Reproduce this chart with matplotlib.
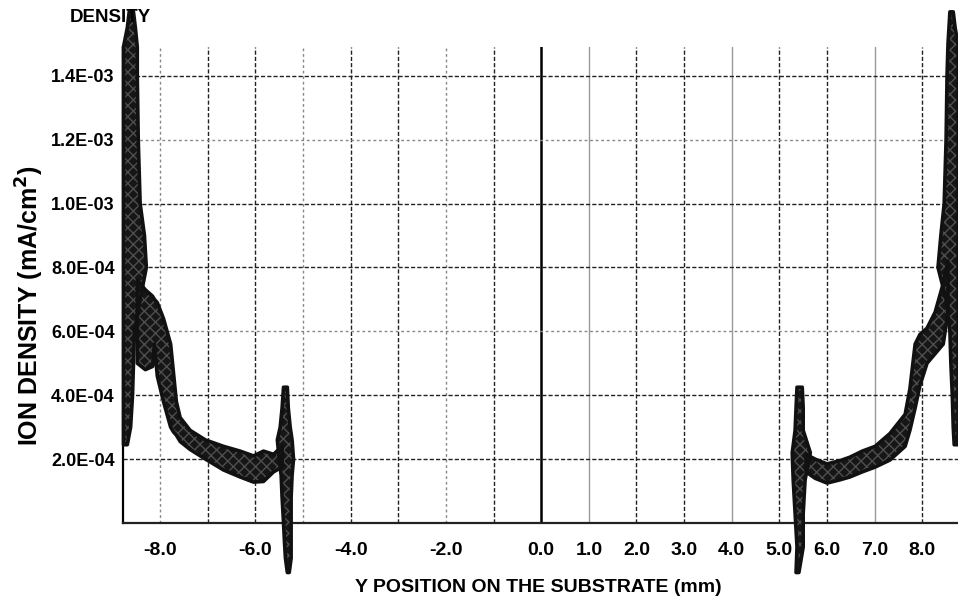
import matplotlib
matplotlib.use("Agg")
import matplotlib.pyplot as plt

# ---- data (x in mm, y in mA/cm^2) ----
# left edge column, drawn across y
lcol_y  = [2.45e-4, 3.0e-4, 4.0e-4, 5.0e-4, 6.0e-4, 7.0e-4, 8.0e-4, 9.0e-4, 1.0e-3, 1.2e-3, 1.4e-3, 1.49e-3, 1.55e-3, 1.6e-3]
lcol_x0 = [-8.77, -8.77, -8.77, -8.77, -8.77, -8.77, -8.77, -8.77, -8.77, -8.77, -8.77, -8.77, -8.69, -8.65]
lcol_x1 = [-8.69, -8.62, -8.58, -8.56, -8.54, -8.42, -8.29, -8.33, -8.42, -8.46, -8.48, -8.48, -8.52, -8.56]

# left lobe + descending band
lband_x  = [-8.48, -8.31, -8.16, -8.12, -8.06, -7.93, -7.78, -7.72, -7.66, -7.58, -7.37, -7.05, -6.67, -6.32, -6.04, -5.83, -5.62, -5.44]
lband_hi = [7.6e-4, 7.3e-4, 7.1e-4, 7.0e-4, 6.9e-4, 6.4e-4, 5.6e-4, 4.7e-4, 3.8e-4, 3.3e-4, 2.9e-4, 2.6e-4, 2.4e-4, 2.25e-4, 2.1e-4, 2.25e-4, 2.15e-4, 2.4e-4]
lband_lo = [5.0e-4, 4.8e-4, 4.9e-4, 5.6e-4, 4.6e-4, 3.8e-4, 3.0e-4, 2.85e-4, 2.75e-4, 2.55e-4, 2.3e-4, 2.0e-4, 1.66e-4, 1.44e-4, 1.28e-4, 1.3e-4, 1.6e-4, 1.75e-4]

# left spike near -5.4 mm
lspk_y  = [4.25e-4, 3.6e-4, 3.0e-4, 2.6e-4, 2.0e-4, 1.5e-4, 0.8e-4, 0.0, -0.6e-4, -1.1e-4, -1.55e-4]
lspk_x0 = [-5.41, -5.44, -5.48, -5.54, -5.50, -5.46, -5.44, -5.41, -5.39, -5.37, -5.33]
lspk_x1 = [-5.33, -5.31, -5.27, -5.23, -5.20, -5.23, -5.25, -5.25, -5.25, -5.25, -5.29]

# right spike near 5.4 mm
rspk_y  = [4.25e-4, 3.6e-4, 2.9e-4, 2.2e-4, 1.35e-4, 0.3e-4, -0.75e-4, -1.55e-4]
rspk_x0 = [5.37, 5.35, 5.33, 5.27, 5.29, 5.33, 5.37, 5.35]
rspk_x1 = [5.48, 5.50, 5.50, 5.65, 5.54, 5.50, 5.50, 5.41]

# right band rising to the edge
rband_x  = [5.56, 5.75, 6.00, 6.27, 6.48, 6.74, 7.01, 7.32, 7.64, 7.74, 7.85, 7.95, 8.10, 8.27, 8.44, 8.54]
rband_hi = [2.15e-4, 2.0e-4, 1.85e-4, 1.95e-4, 2.06e-4, 2.25e-4, 2.4e-4, 2.8e-4, 3.4e-4, 4.2e-4, 5.6e-4, 5.9e-4, 6.1e-4, 6.6e-4, 7.5e-4, 8.2e-4]
rband_lo = [1.6e-4, 1.4e-4, 1.25e-4, 1.35e-4, 1.44e-4, 1.6e-4, 1.75e-4, 1.97e-4, 2.4e-4, 2.9e-4, 3.6e-4, 4.3e-4, 5.0e-4, 5.3e-4, 5.6e-4, 6.6e-4]

# right edge column
rcol_y  = [2.45e-4, 3.0e-4, 4.0e-4, 5.0e-4, 6.0e-4, 7.0e-4, 8.0e-4, 9.0e-4, 1.0e-3, 1.2e-3, 1.4e-3, 1.5e-3, 1.55e-3, 1.6e-3]
rcol_x0 = [8.67, 8.65, 8.63, 8.60, 8.58, 8.50, 8.33, 8.39, 8.46, 8.50, 8.52, 8.54, 8.56, 8.58]
rcol_x1 = [8.75, 8.75, 8.75, 8.75, 8.75, 8.75, 8.75, 8.75, 8.75, 8.75, 8.75, 8.75, 8.69, 8.65]

xticks = [-8, -6, -4, -2, 0, 1, 2, 3, 4, 5, 6, 7, 8]
xtick_labels = ["-8.0", "-6.0", "-4.0", "-2.0", "0.0", "1.0", "2.0", "3.0", "4.0", "5.0", "6.0", "7.0", "8.0"]
yticks = [2e-4, 4e-4, 6e-4, 8e-4, 1.0e-3, 1.2e-3, 1.4e-3]
ytick_labels = ["2.0E-04", "4.0E-04", "6.0E-04", "8.0E-04", "1.0E-03", "1.2E-03", "1.4E-03"]
grid_x = list(range(-8, 9))

plt.rcParams["font.family"] = ["Liberation Sans", "DejaVu Sans"]
plt.rcParams["font.weight"] = "bold"
plt.rcParams["hatch.linewidth"] = 1.0

fig = plt.figure(figsize=(9.58, 6.07), dpi=100)
ax = fig.add_axes([123 / 958, 1 - 523 / 607, 1 - 123 / 958, (523 - 47) / 607])
ax.set_xlim(-8.78, 8.75)
ax.set_ylim(0, 1.49e-3)

# grid, scanned look: some lines dark dashed, some grey
gx_style = {-8: "g", -7: "d", -6: "d", -5: "g", -4: "d", -3: "d", -2: "g", -1: "d",
            0: "k", 1: "s", 2: "d", 3: "d", 4: "s", 5: "d", 6: "d", 7: "s", 8: "d"}
gy_style = ["d", "d", "g", "d", "d", "g", "d"]
styles = {"d": dict(color="#222222", lw=1.0, ls=(0, (3, 1.5))),
          "g": dict(color="#888888", lw=1.0, ls=(0, (2, 2))),
          "s": dict(color="#999999", lw=1.0, ls="-"),
          "k": dict(color="black", lw=1.8, ls="-")}
for gx in grid_x:
    ax.axvline(gx, zorder=1, **styles[gx_style[gx]])
for gy, st in zip(yticks, gy_style):
    ax.axhline(gy, zorder=1, **styles[st])


def blob(fn, a, b, c):
    # dark speckled body, then a fuzzy dark rim
    fn(a, b, c, facecolor="#161616", edgecolor="#4e4e4e", hatch="xxx", lw=0,
       zorder=3, clip_on=False)
    fn(a, b, c, facecolor="none", edgecolor="#111111", lw=2.6, zorder=4, clip_on=False)


blob(ax.fill_betweenx, lcol_y, lcol_x0, lcol_x1)
blob(ax.fill_between, lband_x, lband_lo, lband_hi)
blob(ax.fill_betweenx, lspk_y, lspk_x0, lspk_x1)
blob(ax.fill_betweenx, rspk_y, rspk_x0, rspk_x1)
blob(ax.fill_between, rband_x, rband_lo, rband_hi)
blob(ax.fill_betweenx, rcol_y, rcol_x0, rcol_x1)

for s in ["top", "right"]:
    ax.spines[s].set_visible(False)
ax.spines["left"].set_linewidth(1.6)
ax.spines["bottom"].set_linewidth(1.6)
ax.spines["bottom"].set_color("#222222")

ax.set_xticks(xticks)
ax.set_xticklabels(xtick_labels, fontsize=14)
ax.set_yticks(yticks)
ax.set_yticklabels(ytick_labels, fontsize=13)
ax.tick_params(axis="x", length=0, pad=14)
ax.tick_params(axis="y", length=0, pad=6)

fig.text(110 / 958, 1 - 17 / 607, "DENSITY", fontsize=13.5, ha="center", va="center")
fig.text(30 / 958, 1 - 306 / 607, "ION DENSITY (mA/cm$^2$)", fontsize=18,
         rotation=90, ha="center", va="center")
fig.text(538 / 958, 1 - 588 / 607, "Y POSITION ON THE SUBSTRATE (mm)", fontsize=14,
         ha="center", va="center")

plt.savefig("out.png", dpi=100)
